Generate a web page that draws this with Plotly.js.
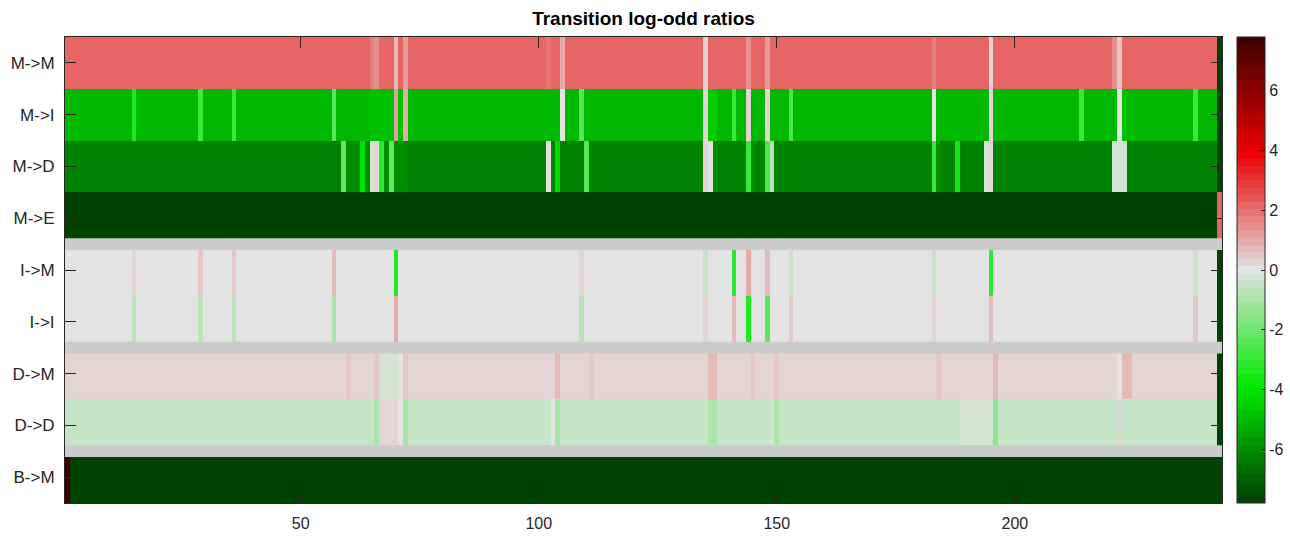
<!DOCTYPE html>
<html><head><meta charset="utf-8">
<script src="https://cdn.plot.ly/plotly-3.0.1.min.js"></script>
<style>html,body{margin:0;padding:0;background:#fff;} #chart{width:1290px;height:536px;}</style>
</head><body><div id="chart"></div>
<script>
// ---- data (run-length encoded: [value, number of consecutive states]) ----
const rowLabels = ['M->M','M->I','M->D','M->E','I->M','I->I','D->M','D->D','B->M'];
const nStates = 243;
const runsMM = [[2.2,64],[1.6,1],[1.4,1],[2.2,3],[0.8,1],[2.2,1],[1.15,1],[2.2,29],[1.8,1],[2.2,2],[1.0,1],[2.2,29],[0.25,1],[2.2,8],[1.35,1],[2.2,3],[1.3,1],[2.2,34],[1.6,1],[2.2,11],[0.35,1],[2.2,25],[1.4,1],[0.55,1],[2.2,20],[-7.8,1]];
const runsMI = [[-5.1,14],[-3.4,1],[-5.1,13],[-3.0,1],[-5.1,6],[-2.8,1],[-5.1,20],[-2.3,1],[-5.1,7],[-4.7,5],[1.1,1],[-4.9,1],[0.85,1],[-5.1,32],[-0.1,1],[-5.1,3],[-2.5,1],[-5.1,25],[0.2,1],[-4.6,2],[-5.1,3],[-2.8,1],[-5.1,2],[0.2,1],[-5.1,3],[0.3,1],[-5.1,4],[-2.7,1],[-5.1,29],[0.05,1],[-5.1,11],[0.15,1],[-5.1,18],[-2.8,1],[-5.1,7],[0.1,1],[-4.7,1],[-5.1,14],[-2.8,1],[-5.1,4],[-7.8,1]];
const runsMD = [[-6.2,58],[-2.2,1],[-6.0,3],[-4.1,1],[-6.0,1],[-0.2,1],[0.25,1],[-3.2,1],[-6.0,1],[-2.2,1],[-5.9,3],[-6.2,29],[-0.1,1],[-6.2,1],[-4.3,1],[-6.2,5],[-2.4,1],[-6.2,24],[0.25,1],[0.1,1],[-5.9,1],[-6.2,6],[-3.0,1],[-5.9,1],[-6.2,2],[-2.6,1],[-0.8,1],[-6.2,33],[-2.9,1],[-5.9,1],[-6.2,3],[-3.6,1],[-6.2,5],[-0.15,1],[0.2,1],[-6.2,25],[-0.2,3],[-6.2,19],[-7.8,1]];
const runsME = [[-7.57,242],[2.2,1]];
const runsIM = [[0,14],[0.35,1],[0,13],[0.5,1],[0,6],[0.5,1],[0,20],[0.6,1],[0,12],[-3.4,1],[0,38],[0.35,1],[0,25],[-0.5,1],[0,5],[-3.2,1],[0,2],[1.0,1],[0,3],[0.8,1],[0,4],[-0.5,1],[0,29],[-0.5,1],[0,11],[-3.2,1],[0,42],[-0.5,1],[0,4],[-7.8,1]];
const runsII = [[0,14],[-0.7,1],[0,13],[-0.7,1],[0,6],[-0.7,1],[0,20],[-0.9,1],[0,12],[1.0,1],[0,38],[-0.7,1],[0,25],[0.3,1],[0,5],[0.8,1],[0,2],[-3.4,1],[0,3],[-2.5,1],[0,4],[0.4,1],[0,29],[0.25,1],[0,11],[0.7,1],[0,42],[0.4,1],[0,4],[-7.8,1]];
const runsDM = [[0.27,59],[0.55,1],[0.27,5],[0.55,1],[-0.2,4],[0.0,1],[0.55,1],[0.27,31],[0.65,1],[0.27,6],[0.5,1],[0.27,24],[0.65,2],[0.27,7],[0.5,1],[0.27,4],[0.5,1],[0.27,33],[0.55,1],[0.27,11],[0.8,1],[0.27,25],[0.0,1],[0.6,2],[0.27,18],[-7.8,1]];
const runsDD = [[-0.55,65],[-0.9,1],[0.27,4],[0.0,1],[-1.0,1],[-0.55,30],[0.0,1],[-0.9,1],[-0.55,31],[-1.0,2],[-0.55,11],[-0.2,1],[-0.9,1],[-0.55,38],[-0.2,7],[-1.4,1],[-0.55,25],[0.2,1],[-0.5,2],[-0.55,18],[-7.8,1]];
const runsBM = [[7.8,1],[-7.6,242]];
const groupEnds = [4, 6, 8];           // separators drawn after these row counts
const cbTickVals = [-6,-4,-2,0,2,4,6];
const cbTickText = ['-6','-4','-2','0','2','4','6'];
const xTickVals = [50,100,150,200];
const zLimits = [-7.8, 7.8];

// ---- build ----
function expand(runs){ const out=[]; runs.forEach(([v,n])=>{ for(let i=0;i<n;i++) out.push(v); }); return out; }
const z = [runsMM,runsMI,runsMD,runsME,runsIM,runsII,runsDM,runsDD,runsBM].map(expand);
const xs = Array.from({length:nStates},(_,i)=>i+1);
const ys = rowLabels.map((_,i)=>i);

// stepped colormap: dark green -> green -> grey -> red -> dark red
const anchors = [[-1,[0,62,0]],[-0.5,[0,235,0]],[0,[227,227,227]],[0.5,[235,0,0]],[1,[62,0,0]]];
function cmap(t){ // t in [-1,1]
  for(let i=0;i<anchors.length-1;i++){
    const [a,ca]=anchors[i],[b,cb]=anchors[i+1];
    if(t<=b||i===anchors.length-2){ const f=Math.min(1,Math.max(0,(t-a)/(b-a)));
      return 'rgb('+ca.map((c,j)=>Math.round(c+(cb[j]-c)*f)).join(',')+')'; }
  }
}
const N=65, colorscale=[];
for(let k=0;k<N;k++){ const c=cmap(-1+(k+0.5)*2/N); colorscale.push([k/N,c]); colorscale.push([(k+1)/N,c]); }

const shapes = groupEnds.map(g=>({type:'rect',xref:'x',yref:'y',x0:0.5,x1:nStates+0.5,y0:g-0.5-0.113,y1:g-0.5+0.113,
  fillcolor:'#cbcbcb',line:{width:0},layer:'above'}));

const ff = '"Liberation Sans", Arial, Helvetica, sans-serif';
const font = {family:ff, size:16, color:'#262626'};
const yfont = {family:ff, size:17, color:'#262626'};
const trace = {type:'heatmap', x:xs, y:ys, z:z, zmin:zLimits[0], zmax:zLimits[1], colorscale:colorscale, zsmooth:false,
  colorbar:{thickness:28, thicknessmode:'pixels', len:1, lenmode:'fraction', x:1.0128, xanchor:'left', xpad:0,
    y:0.5, yanchor:'middle', ypad:0, outlinewidth:1, outlinecolor:'#262626', ticks:'inside', ticklen:4, tickcolor:'#262626',
    tickvals:cbTickVals, ticktext:cbTickText, tickfont:font}};
const layout = {width:1290, height:536, margin:{l:65,r:68,t:37,b:33,autoexpand:false}, paper_bgcolor:'#fff', plot_bgcolor:'#fff',
  font:font,
  title:{text:'<b>Transition log-odd ratios</b>', font:{family:ff,size:19,color:'#000'}, x:0.5, xref:'paper', y:1-18/536, yref:'container', yanchor:'middle'},
  xaxis:{range:[0.5,nStates+0.5], tickvals:xTickVals, ticks:'inside', ticklen:11, tickcolor:'#262626', showline:true, linecolor:'#262626', linewidth:1, mirror:'ticks', showgrid:false, zeroline:false, tickfont:font, ticklabelstandoff:6},
  yaxis:{range:[rowLabels.length-0.5,-0.5], tickvals:ys, ticktext:rowLabels, ticks:'inside', ticklen:11, tickcolor:'#262626', showline:true, linecolor:'#262626', linewidth:1, mirror:'ticks', showgrid:false, zeroline:false, tickfont:yfont, ticklabelstandoff:6},
  shapes:shapes};
Plotly.newPlot('chart',[trace],layout,{displayModeBar:false, staticPlot:true});
</script></body></html>
